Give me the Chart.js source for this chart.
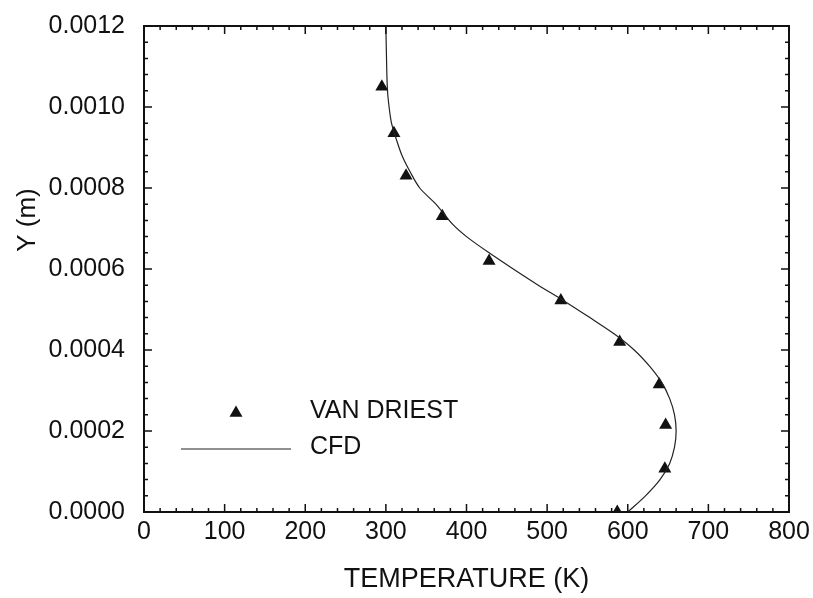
<!DOCTYPE html>
<html>
<head>
<meta charset="utf-8">
<script src="https://cdn.jsdelivr.net/npm/chart.js@4.4.0/dist/chart.umd.min.js"></script>
<style>
  html, body { margin: 0; padding: 0; background: #fff; }
  #wrap { width: 813px; height: 598px; }
</style>
</head>
<body>
<div id="wrap"><canvas id="grafico"></canvas></div>
<script>
// pontos VAN DRIEST (T em K, Y em m)
const tempVanDriest = [587, 646, 647, 639, 590, 517, 428, 370, 325, 310, 295];
const yVanDriest = [0, 0.000107, 0.000215, 0.000315, 0.00042, 0.000522, 0.00062, 0.00073, 0.00083, 0.000935, 0.00105];

// curva CFD
const tempCfd = [600, 622, 640, 652, 658, 660, 658, 652, 642, 627, 608, 583, 553, 522, 489, 458, 428, 400, 383, 362, 342, 330, 320, 313, 307, 304, 302, 301, 300];
const yCfd = [0, 0.00004, 0.00008, 0.00012, 0.00016, 0.0002, 0.00024, 0.00028, 0.00032, 0.00036, 0.0004, 0.00044, 0.00048, 0.00052, 0.00056, 0.0006, 0.00064, 0.00068, 0.00071, 0.00076, 0.0008, 0.00084, 0.00088, 0.00092, 0.00096, 0.001, 0.00104, 0.0011, 0.0012];

const ticksX = [0, 100, 200, 300, 400, 500, 600, 700, 800];
const ticksY = [0, 0.0002, 0.0004, 0.0006, 0.0008, 0.0010, 0.0012];

const FONTE = "'Liberation Sans', Arial, Helvetica, sans-serif";
const PRETO = '#111';

const moldura = {
    id: 'moldura',
    afterDraw(chart) {
        const { ctx, chartArea: a, scales: { x, y } } = chart;
        ctx.save();
        ctx.strokeStyle = PRETO;
        ctx.lineWidth = 2;
        ctx.strokeRect(a.left, a.top, a.right - a.left, a.bottom - a.top);

        // ticks para dentro, 5 subdivisoes
        ctx.lineWidth = 1.5;
        const marcaX = (px, len) => {
            ctx.beginPath();
            ctx.moveTo(px, a.bottom); ctx.lineTo(px, a.bottom - len);
            ctx.moveTo(px, a.top); ctx.lineTo(px, a.top + len);
            ctx.stroke();
        };
        const marcaY = (py, len) => {
            ctx.beginPath();
            ctx.moveTo(a.left, py); ctx.lineTo(a.left + len, py);
            ctx.moveTo(a.right, py); ctx.lineTo(a.right - len, py);
            ctx.stroke();
        };
        ticksX.forEach((v, i) => {
            marcaX(x.getPixelForValue(v), 8);
            if (i < ticksX.length - 1) {
                const passo = (ticksX[i + 1] - v) / 5;
                for (let k = 1; k < 5; k++) marcaX(x.getPixelForValue(v + k * passo), 4);
            }
        });
        ticksY.forEach((v, i) => {
            marcaY(y.getPixelForValue(v), 8);
            if (i < ticksY.length - 1) {
                const passo = (ticksY[i + 1] - v) / 5;
                for (let k = 1; k < 5; k++) marcaY(y.getPixelForValue(v + k * passo), 4);
            }
        });

        // titulo do eixo Y
        ctx.fillStyle = PRETO;
        ctx.font = `26px ${FONTE}`;
        ctx.textAlign = 'center';
        ctx.textBaseline = 'middle';
        ctx.translate(28, 220);
        ctx.rotate(-Math.PI / 2);
        ctx.fillText('Y (m)', 0, 0);
        ctx.restore();

        // legenda
        ctx.save();
        ctx.fillStyle = PRETO;
        ctx.strokeStyle = '#222';
        const tx = 236, ty = 413, r = 7.5;
        ctx.beginPath();
        ctx.moveTo(tx, ty - r);
        ctx.lineTo(tx + r * 0.866, ty + r * 0.5);
        ctx.lineTo(tx - r * 0.866, ty + r * 0.5);
        ctx.closePath();
        ctx.fill();
        ctx.lineWidth = 1.2;
        ctx.beginPath();
        ctx.moveTo(181, 449); ctx.lineTo(291, 449);
        ctx.stroke();
        ctx.font = `25px ${FONTE}`;
        ctx.textAlign = 'left';
        ctx.textBaseline = 'middle';
        ctx.fillText('VAN DRIEST', 310, 411);
        ctx.fillText('CFD', 310, 447);
        ctx.restore();
    }
};

new Chart(document.getElementById('grafico'), {
    type: 'scatter',
    data: {
        datasets: [
            {
                label: 'CFD',
                data: tempCfd.map((t, i) => ({ x: t, y: yCfd[i] })),
                showLine: true,
                borderColor: '#222',
                borderWidth: 1.2,
                pointRadius: 0,
                tension: 0.3,
                fill: false
            },
            {
                label: 'VAN DRIEST',
                data: tempVanDriest.map((t, i) => ({ x: t, y: yVanDriest[i] })),
                pointStyle: 'triangle',
                pointRadius: 7.5,
                backgroundColor: PRETO,
                borderColor: PRETO,
                borderWidth: 0
            }
        ]
    },
    options: {
        responsive: true,
        maintainAspectRatio: false,
        animation: false,
        layout: { padding: { top: 20, right: 24, left: 0, bottom: 0 } },
        plugins: { legend: { display: false }, tooltip: { enabled: false } },
        scales: {
            x: {
                type: 'linear', min: 0, max: 800,
                afterBuildTicks: s => { s.ticks = ticksX.map(v => ({ value: v })); },
                afterFit: s => { s.height = 86; },
                grid: { display: false },
                border: { display: false },
                ticks: { color: PRETO, padding: -3, maxRotation: 0, font: { family: FONTE, size: 25 } },
                title: { display: true, text: 'TEMPERATURE (K)', color: PRETO, padding: { top: 18, bottom: 2 }, font: { family: FONTE, size: 27 } }
            },
            y: {
                type: 'linear', min: 0, max: 0.0012,
                afterBuildTicks: s => { s.ticks = ticksY.map(v => ({ value: v })); },
                afterFit: s => { s.width = 144; },
                grid: { display: false },
                border: { display: false },
                ticks: { color: PRETO, padding: 11, font: { family: FONTE, size: 25 }, callback: v => Number(v).toFixed(4) }
            }
        }
    },
    plugins: [moldura]
});
</script>
</body>
</html>
